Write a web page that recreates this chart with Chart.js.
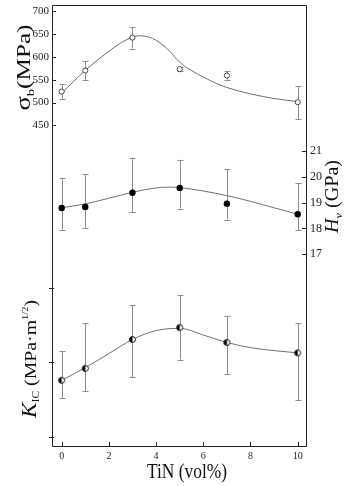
<!DOCTYPE html>
<html><head><meta charset="utf-8">
<script src="https://cdn.jsdelivr.net/npm/chart.js@4"></script>
<style>html,body{margin:0;padding:0;background:#fff}#wrap{position:relative;width:357px;height:486px}</style>
</head><body><div id="wrap"><canvas id="c"></canvas></div>
<script>
// ---- data ----
const tinX = [0, 1, 3, 5, 7, 10];
const sigmaB = [524, 570, 642, 573, 559, 501];
const sigmaLow = [508, 549, 618, 570, 550, 464];
const sigmaHigh = [540, 591, 664, 577, 568, 536];
const hv = [18.79, 18.83, 19.38, 19.57, 18.96, 18.55];
const hvLow = [17.95, 18.03, 18.64, 18.77, 18.34, 17.94];
const hvHigh = [19.96, 20.09, 20.74, 20.65, 20.30, 19.75];
const kic = [3.76, 3.92, 4.31, 4.47, 4.27, 4.13];
const kicLow = [3.52, 3.61, 3.80, 4.04, 3.85, 3.49];
const kicHigh = [4.15, 4.53, 4.77, 4.91, 4.63, 4.53];
const sigmaFitX = [0, 0.5, 1, 1.5, 2, 2.5, 3, 3.3, 3.7, 4, 4.5, 5, 5.5, 6, 6.5, 7, 8, 9, 10];
const sigmaFitY = [521, 546, 570, 592, 612, 630, 643, 646, 643, 636, 616, 588, 570, 556, 543, 533, 519, 509, 502];
const hvFitX = [0, 1, 2, 3, 4, 4.5, 5, 6, 7, 8, 9, 10];
const hvFitY = [18.8, 18.95, 19.17, 19.4, 19.57, 19.6, 19.58, 19.45, 19.27, 19.05, 18.8, 18.55];
const kicFitX = [0, 1, 2, 3, 4, 5, 6, 7, 8, 9, 10];
const kicFitY = [3.76, 3.93, 4.12, 4.31, 4.43, 4.46, 4.37, 4.27, 4.2, 4.16, 4.13];
const xTicks = [0, 2, 4, 6, 8, 10];
const sigmaTicks = [450, 500, 550, 600, 650, 700];
const hvTicks = [17, 18, 19, 20, 21];
const kicTicks = [3, 4, 5];

const SERIF = "'Liberation Serif', 'DejaVu Serif', serif";
const pts = (xs, ys) => xs.map((x, i) => ({x: x, y: ys[i]}));

// half-filled marker
function halfMarker(r) {
  const s = Math.ceil(r * 2 + 3);
  const cv = document.createElement('canvas');
  cv.width = s; cv.height = s;
  const c = cv.getContext('2d');
  const cx = s / 2, cy = s / 2;
  c.beginPath(); c.arc(cx, cy, r, 0, Math.PI * 2); c.fillStyle = '#fff'; c.fill();
  c.beginPath(); c.arc(cx, cy, r, Math.PI / 2, Math.PI * 1.5); c.closePath(); c.fillStyle = '#000'; c.fill();
  c.beginPath(); c.arc(cx, cy, r, 0, Math.PI * 2); c.strokeStyle = '#111'; c.lineWidth = 1; c.stroke();
  return cv;
}

const errSets = [
  {axis: 'ySig', y: sigmaB, lo: sigmaLow, hi: sigmaHigh},
  {axis: 'yHv', y: hv, lo: hvLow, hi: hvHigh},
  {axis: 'yKic', y: kic, lo: kicLow, hi: kicHigh}
];

function drawRich(ctx, runs, cx, cy, rot, baseOff, targetLen) {
  ctx.save();
  let total = 0;
  runs.forEach(r => { ctx.font = r.font; r.w = ctx.measureText(r.text).width; total += r.w; });
  const sx = targetLen / total;
  ctx.translate(cx, cy);
  ctx.rotate(rot);
  ctx.scale(sx, 1);
  ctx.fillStyle = '#111';
  ctx.textBaseline = 'alphabetic';
  ctx.textAlign = 'left';
  let x = -total / 2;
  runs.forEach(r => { ctx.font = r.font; ctx.fillText(r.text, x, baseOff + (r.dy || 0)); x += r.w; });
  ctx.restore();
}

const decor = {
  id: 'decor',
  beforeDatasetsDraw(chart) {
    const ctx = chart.ctx, xs = chart.scales.x;
    ctx.save();
    ctx.strokeStyle = '#8c8c8c';
    ctx.lineWidth = 1;
    errSets.forEach(s => {
      const ys = chart.scales[s.axis];
      tinX.forEach((xv, i) => {
        const px = Math.round(xs.getPixelForValue(xv)) + 0.5;
        const y1 = ys.getPixelForValue(s.hi[i]);
        const y2 = ys.getPixelForValue(s.lo[i]);
        ctx.beginPath();
        ctx.moveTo(px, y1); ctx.lineTo(px, y2);
        ctx.moveTo(px - 3, Math.round(y1) + 0.5); ctx.lineTo(px + 3, Math.round(y1) + 0.5);
        ctx.moveTo(px - 3, Math.round(y2) + 0.5); ctx.lineTo(px + 3, Math.round(y2) + 0.5);
        ctx.stroke();
      });
    });
    ctx.restore();
  },
  afterDraw(chart) {
    const ctx = chart.ctx, a = chart.chartArea, sc = chart.scales;
    ctx.save();
    ctx.strokeStyle = '#222';
    ctx.lineWidth = 1;
    ctx.beginPath();
    ctx.rect(a.left + 0.5, a.top + 0.5, a.right - a.left - 1, a.bottom - a.top - 1);
    ctx.stroke();
    ctx.beginPath();
    sigmaTicks.forEach(v => { const y = Math.round(sc.ySig.getPixelForValue(v)) + 0.5; ctx.moveTo(a.left, y); ctx.lineTo(a.left + 4, y); });
    kicTicks.forEach(v => { const y = Math.round(sc.yKic.getPixelForValue(v)) + 0.5; ctx.moveTo(a.left - 3, y); ctx.lineTo(a.left + 2, y); });
    hvTicks.forEach(v => { const y = Math.round(sc.yHv.getPixelForValue(v)) + 0.5; ctx.moveTo(a.right, y); ctx.lineTo(a.right - 5, y); });
    xTicks.forEach(v => { const x = Math.round(sc.x.getPixelForValue(v)) + 0.5; ctx.moveTo(x, a.bottom); ctx.lineTo(x, a.bottom - 5); });
    ctx.stroke();
    ctx.restore();
    // titles
    drawRich(ctx, [
      {text: 'σ', font: '20px ' + SERIF},
      {text: 'b', font: '11px ' + SERIF, dy: 4},
      {text: '(MPa)', font: '19px ' + SERIF}
    ], 17, 67.5, -Math.PI / 2, 13, 86);
    drawRich(ctx, [
      {text: 'H', font: 'italic 18px ' + SERIF},
      {text: 'v', font: 'italic 11px ' + SERIF, dy: 4},
      {text: ' (GPa)', font: '18px ' + SERIF}
    ], 326, 196.5, -Math.PI / 2, 12, 73);
    drawRich(ctx, [
      {text: 'K', font: 'italic 20px ' + SERIF},
      {text: 'IC', font: '10px ' + SERIF, dy: 3},
      {text: ' (MPa·m', font: '17px ' + SERIF},
      {text: '1/2', font: '9px ' + SERIF, dy: -8},
      {text: ')', font: '17px ' + SERIF}
    ], 23, 359, -Math.PI / 2, 13, 118);
    ctx.save();
    ctx.font = '20px ' + SERIF;
    ctx.fillStyle = '#111';
    const w = ctx.measureText('TiN (vol%)').width;
    ctx.translate(187, 478);
    ctx.scale(80 / w, 1);
    ctx.textAlign = 'center';
    ctx.textBaseline = 'alphabetic';
    ctx.fillText('TiN (vol%)', 0, 0);
    ctx.restore();
  }
};

const tickFont = (s) => ({family: SERIF, size: s});
const noPad = s => { s.paddingTop = 0; s.paddingBottom = 0; s.paddingLeft = 0; s.paddingRight = 0; };

new Chart(document.getElementById('c'), {
  type: 'scatter',
  data: {
    datasets: [
      {data: pts(tinX, sigmaB), yAxisID: 'ySig', order: 0, pointStyle: 'circle', pointRadius: 2.6, pointBackgroundColor: '#fff', pointBorderColor: '#444', pointBorderWidth: 1},
      {data: pts(tinX, hv), yAxisID: 'yHv', order: 0, pointStyle: 'circle', pointRadius: 3.2, pointBackgroundColor: '#000', pointBorderColor: '#000', pointBorderWidth: 0},
      {data: pts(tinX, kic), yAxisID: 'yKic', order: 0, pointStyle: halfMarker(3), pointRadius: 3},
      {data: pts(sigmaFitX, sigmaFitY), yAxisID: 'ySig', order: 1, showLine: true, pointRadius: 0, borderColor: '#6f6f6f', borderWidth: 1, cubicInterpolationMode: 'monotone'},
      {data: pts(hvFitX, hvFitY), yAxisID: 'yHv', order: 1, showLine: true, pointRadius: 0, borderColor: '#6f6f6f', borderWidth: 1, cubicInterpolationMode: 'monotone'},
      {data: pts(kicFitX, kicFitY), yAxisID: 'yKic', order: 1, showLine: true, pointRadius: 0, borderColor: '#6f6f6f', borderWidth: 1, cubicInterpolationMode: 'monotone'}
    ]
  },
  options: {
    responsive: true,
    maintainAspectRatio: false,
    animation: false,
    events: [],
    layout: {padding: {top: 5, left: 0, right: 0, bottom: 0}},
    plugins: {legend: {display: false}, tooltip: {enabled: false}},
    scales: {
      x: {
        type: 'linear', position: 'bottom', min: -0.41, max: 10.394,
        grid: {display: false, drawTicks: false}, border: {display: false},
        afterBuildTicks: s => { s.ticks = xTicks.map(v => ({value: v})); },
        afterFit: s => { s.height = 39; noPad(s); },
        ticks: {font: tickFont(10), color: '#222', padding: 3, autoSkip: false, maxRotation: 0}
      },
      ySig: {
        type: 'linear', position: 'left', weight: 1, min: -252, max: 713.1,
        grid: {display: false, drawTicks: false}, border: {display: false},
        afterBuildTicks: s => { s.ticks = sigmaTicks.map(v => ({value: v})); },
        afterFit: s => { s.width = 52; noPad(s); },
        ticks: {font: tickFont(11), color: '#222', padding: 3, autoSkip: false}
      },
      yKic: {
        type: 'linear', position: 'left', weight: 0, min: 2.861, max: 8.818,
        grid: {display: false, drawTicks: false}, border: {display: false},
        afterBuildTicks: s => { s.ticks = kicTicks.map(v => ({value: v})); },
        afterFit: s => { s.width = 0; noPad(s); },
        ticks: {font: tickFont(9), color: '#222', padding: 5, autoSkip: false}
      },
      yHv: {
        type: 'linear', position: 'right', min: 9.54, max: 26.65,
        grid: {display: false, drawTicks: false}, border: {display: false},
        afterBuildTicks: s => { s.ticks = hvTicks.map(v => ({value: v})); },
        afterFit: s => { s.width = 50; noPad(s); },
        ticks: {font: tickFont(12), color: '#222', padding: 3, autoSkip: false}
      }
    }
  },
  plugins: [decor]
});
</script>
</body></html>
